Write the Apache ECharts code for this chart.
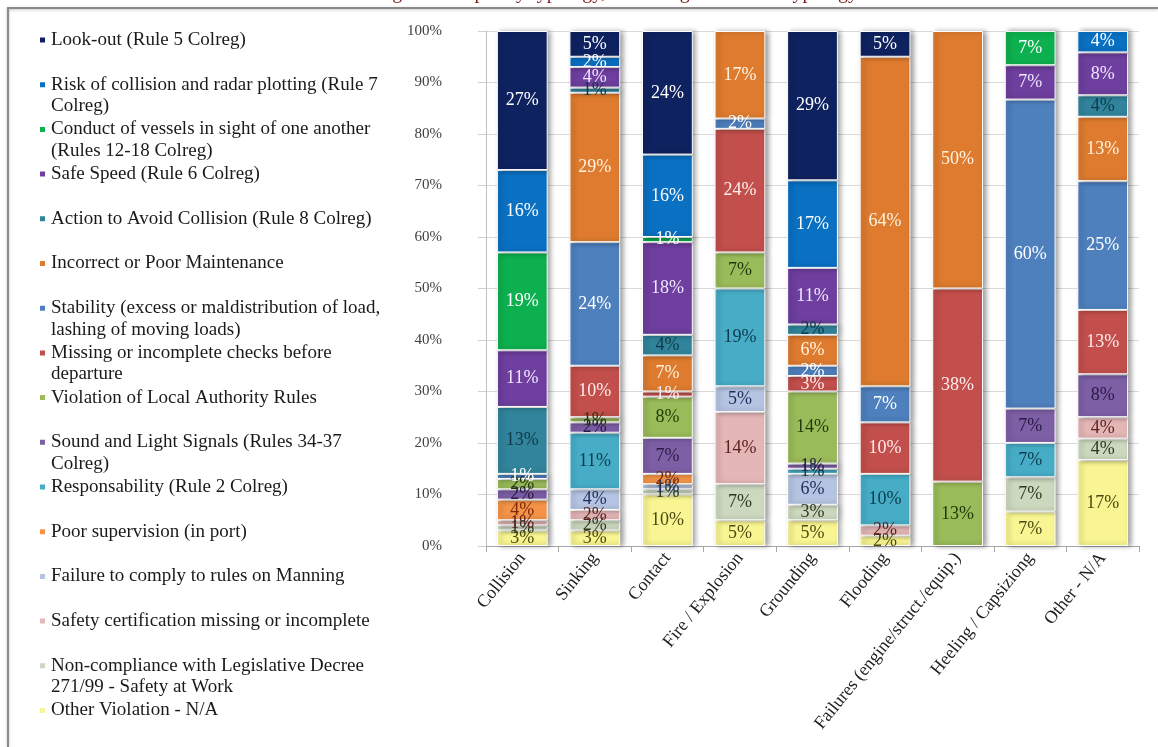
<!DOCTYPE html>
<html>
<head>
<meta charset="utf-8">
<script src="https://cdn.jsdelivr.net/npm/echarts@6/dist/echarts.min.js"></script>
<style>
  html, body { margin: 0; padding: 0; background: #ffffff; }
  #chart { width: 1158px; height: 747px; }
</style>
</head>
<body>
<div id="chart"></div>
<script>
// Accident categories along the x axis
const categories = [
  'Collision', 'Sinking', 'Contact', 'Fire / Explosion', 'Grounding',
  'Flooding', 'Failures (engine/struct./equip.)', 'Heeling / Capsiziong', 'Other - N/A'
];

// Share (%) of each contributing factor, one value per category
const lookOut          = [27, 5, 24, 0, 29, 5, 0, 0, 0];
const riskOfCollision  = [16, 2, 16, 0, 17, 0, 0, 0, 4.17];
const conductOfVessels = [19, 0, 1, 0, 0, 0, 0, 6.67, 0];
const safeSpeed        = [11, 4, 18, 0, 11, 0, 0, 6.67, 8.33];
const actionToAvoid    = [13, 1, 4, 0, 2, 0, 0, 0, 4.17];
const poorMaintenance  = [0, 29, 7, 17, 6, 64, 50, 0, 12.5];
const stability        = [1, 24, 0, 2, 2, 7, 0, 60, 25];
const missingChecks    = [0, 10, 1, 24, 3, 10, 37.5, 0, 12.5];
const localRules       = [2, 1, 8, 7, 14, 0, 12.5, 0, 0];
const soundLight       = [2, 2, 7, 0, 1, 0, 0, 6.67, 8.33];
const responsability   = [0, 11, 0, 19, 1, 10, 0, 6.67, 0];
const poorSupervision  = [4, 0, 2, 0, 0, 0, 0, 0, 0];
const manning          = [0, 4, 1, 5, 6, 0, 0, 0, 0];
const safetyCert       = [1, 2, 0, 14, 0, 2, 0, 0, 4.17];
const nonCompliance    = [1, 2, 1, 7, 3, 0, 0, 6.67, 4.17];
const otherViolation   = [3, 3, 10, 5, 5, 2, 0, 6.67, 16.67];

// Y axis tick values
const yTicks = [0, 10, 20, 30, 40, 50, 60, 70, 80, 90, 100];

// Factors in legend order (top of the stack first); lines = wrapped legend text
const factors = [
  { name: 'Look-out (Rule 5 Colreg)', lines: ['Look-out (Rule 5 Colreg)'], data: lookOut, color: '#0E2260', label: '#ffffff' },
  { name: 'Risk of collision and radar plotting (Rule 7 Colreg)', lines: ['Risk of collision and radar plotting (Rule 7', 'Colreg)'], data: riskOfCollision, color: '#0A70C2', label: '#ffffff' },
  { name: 'Conduct of vessels in sight of one another (Rules 12-18 Colreg)', lines: ['Conduct of vessels in sight of one another', '(Rules 12-18 Colreg)'], data: conductOfVessels, color: '#0DB04F', label: '#ffffff' },
  { name: 'Safe Speed (Rule 6 Colreg)', lines: ['Safe Speed (Rule 6 Colreg)'], data: safeSpeed, color: '#6E3F9E', label: '#f0e6ff' },
  { name: 'Action to Avoid Collision (Rule 8 Colreg)', lines: ['Action to Avoid Collision (Rule 8 Colreg)'], data: actionToAvoid, color: '#31849B', label: '#0f3a47' },
  { name: 'Incorrect or Poor Maintenance', lines: ['Incorrect or Poor Maintenance'], data: poorMaintenance, color: '#DE7B2F', label: '#fff3e0' },
  { name: 'Stability (excess or maldistribution of load, lashing of moving loads)', lines: ['Stability (excess or maldistribution of load,', 'lashing of moving loads)'], data: stability, color: '#4E80BE', label: '#ffffff' },
  { name: 'Missing or incomplete checks before departure', lines: ['Missing or incomplete checks before', 'departure'], data: missingChecks, color: '#C24F4C', label: '#ffecec' },
  { name: 'Violation of Local Authority Rules', lines: ['Violation of Local Authority Rules'], data: localRules, color: '#9ABB5A', label: '#1f3a0a' },
  { name: 'Sound and Light Signals (Rules 34-37 Colreg)', lines: ['Sound and Light Signals (Rules 34-37', 'Colreg)'], data: soundLight, color: '#7D5FA6', label: '#2a1a45' },
  { name: 'Responsability (Rule 2 Colreg)', lines: ['Responsability (Rule 2 Colreg)'], data: responsability, color: '#47ADC7', label: '#0e3a4d' },
  { name: 'Poor supervision (in port)', lines: ['Poor supervision (in port)'], data: poorSupervision, color: '#F59448', label: '#7a2a05' },
  { name: 'Failure to comply to rules on Manning', lines: ['Failure to comply to rules on Manning'], data: manning, color: '#B5C4E2', label: '#1f2d5a' },
  { name: 'Safety certification missing or incomplete', lines: ['Safety certification missing or incomplete'], data: safetyCert, color: '#E5B6B6', label: '#5a1f1f' },
  { name: 'Non-compliance with Legislative Decree 271/99 - Safety at Work', lines: ['Non-compliance with Legislative Decree', '271/99 - Safety at Work'], data: nonCompliance, color: '#CDD9BF', label: '#2d3a20' },
  { name: 'Other Violation - N/A', lines: ['Other Violation - N/A'], data: otherViolation, color: '#F8F592', label: '#4a4a10' }
];

const SERIF = "'Liberation Serif', 'Times New Roman', serif";
const LINE_H = 21.5;       // legend line height
const LEGEND_STEP = 44.7;  // distance between legend rows
const LEGEND_FIRST = 40;   // centre of the first legend row

// Stacks are built bottom-up, so the last factor sits at the base of each bar
const series = factors.slice().reverse().map(f => ({
  name: f.name,
  type: 'bar',
  stack: 'share',
  barWidth: '70%',
  data: f.data.map(v => (v === 0 ? null : v)),
  itemStyle: {
    color: f.color,
    borderColor: '#ffffff',
    borderWidth: 1,
    shadowColor: 'rgba(0,0,0,0.4)',
    shadowBlur: 5,
    shadowOffsetX: 3
  },
  label: {
    show: true,
    position: 'inside',
    color: f.label,
    fontFamily: SERIF,
    fontSize: 18,
    formatter: p => (p.value ? Math.round(p.value) + '%' : '')
  },
  emphasis: { disabled: true }
}));

// One legend block per factor so that each row keeps the icon on its first text line
const legends = factors.map((f, i) => ({
  orient: 'vertical',
  left: 38,
  top: LEGEND_FIRST + i * LEGEND_STEP - 1.5 * LINE_H,
  padding: 0,
  itemWidth: 7,
  itemHeight: 7,
  icon: 'rect',
  data: [f.name],
  formatter: () => '\n' + f.lines[0] + '\n' + (f.lines[1] || ''),
  textStyle: {
    fontFamily: SERIF,
    fontSize: 19,
    lineHeight: LINE_H,
    color: '#1a1a1a'
  }
}));

const chart = echarts.init(document.getElementById('chart'), null, { renderer: 'canvas' });

chart.setOption({
  backgroundColor: '#ffffff',
  animation: false,
  legend: legends,
  grid: { left: 486, right: 19, top: 31, bottom: 201 },
  xAxis: {
    type: 'category',
    data: categories,
    axisLine: { lineStyle: { color: '#a6a6a6' } },
    axisTick: { show: true, length: 6, lineStyle: { color: '#a6a6a6' } },
    axisLabel: {
      interval: 0,
      rotate: 51,
      margin: 9,
      color: '#222222',
      fontFamily: SERIF,
      fontSize: 18
    }
  },
  yAxis: {
    type: 'value',
    min: yTicks[0],
    max: yTicks[yTicks.length - 1],
    interval: yTicks[1] - yTicks[0],
    axisLine: { show: true, lineStyle: { color: '#bfbfbf' } },
    axisTick: { show: true, length: 8, lineStyle: { color: '#d0d0d0' } },
    axisLabel: {
      margin: 44,
      color: '#404040',
      fontFamily: SERIF,
      fontSize: 15,
      formatter: '{value}%'
    },
    splitLine: { lineStyle: { color: '#d9d9d9' } }
  },
  graphic: [
    {
      type: 'text',
      left: 'center',
      top: -17,
      z: 10,
      style: {
        text: 'Contributing factors split by typology, according to accident typology',
        fill: '#7f1f1f',
        font: "20px 'Liberation Serif', serif"
      }
    },
    {
      type: 'polyline',
      z: 10,
      shape: { points: [[8, 747], [8, 8], [1158, 8]] },
      style: { stroke: '#8a8a8a', lineWidth: 2, fill: null, shadowColor: 'rgba(0,0,0,0.25)', shadowBlur: 3, shadowOffsetY: 1 }
    }
  ],
  series: series
});
</script>
</body>
</html>
